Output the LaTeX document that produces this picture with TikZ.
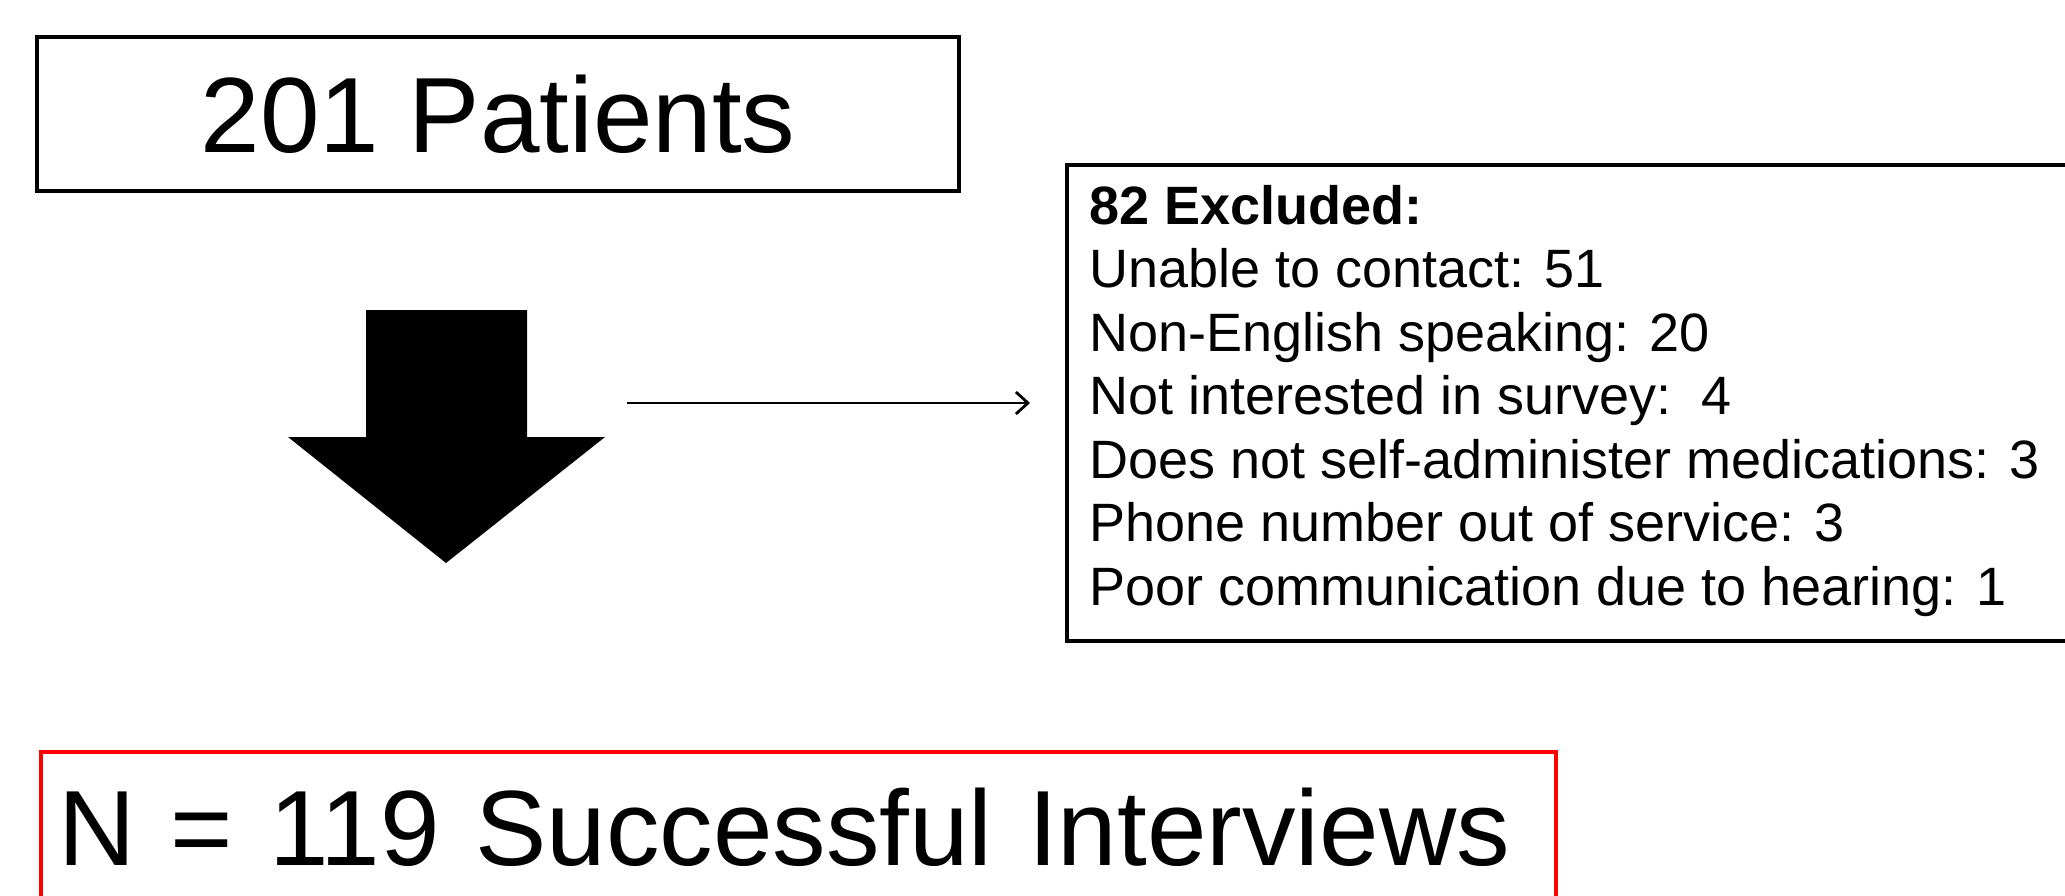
\documentclass[tikz,border=0pt]{standalone}
\usepackage{fontspec}
\setmainfont{Liberation Sans}
\usetikzlibrary{arrows.meta,calc}
\begin{document}
\begin{tikzpicture}[x=1pt,y=-1pt,
  blackbox/.style={draw=black, line width=4pt, inner sep=0pt},
  redbox/.style={draw=red, line width=4pt},
  bigfont/.style={font=\fontsize{107}{120}\selectfont},
  listfont/.style={font=\fontsize{54}{63.5}\selectfont},
  thinarrow/.style={line width=2.8pt, -{Straight Barb[length=12pt,width=22pt,line width=2.8pt]}},
  bigarrow/.style={fill=black}]
\clip (0,0) rectangle (2065,895);
\fill[white] (0,0) rectangle (2065,895);
\node[blackbox, bigfont, minimum width=922pt, minimum height=154pt] (patients) at (498,114) {201 Patients};
\fill[bigarrow] (366,310) -- (527,310) -- (527,437) -- (605,437) -- (446,563) -- (288,437) -- (366,437) -- cycle;
\node[blackbox, minimum width=1020pt, minimum height=476pt] (excluded) at (1577,403) {};
\node[listfont, anchor=north west, inner sep=0pt, align=left] (reasons) at (1089,185)
  {\textbf{82 Excluded:}\\
   Unable to contact: 51\\
   Non-English speaking: 20\\
   Not interested in survey:\ \ 4\\
   Does not self-administer medications: 3\\
   Phone number out of service: 3\\
   Poor communication due to hearing: 1};
\coordinate (armstart) at (627,403);
\coordinate (armend) at ($(excluded.west)+(-35,0)$);
\draw[thinarrow] (armstart) -- (armend);
\node[redbox, bigfont, text width=1481pt, inner xsep=17pt, inner ysep=0pt, minimum height=150pt, align=left] (interviews) at (798.5,827) {N = 119 Successful Interviews};
\end{tikzpicture}
\end{document}
